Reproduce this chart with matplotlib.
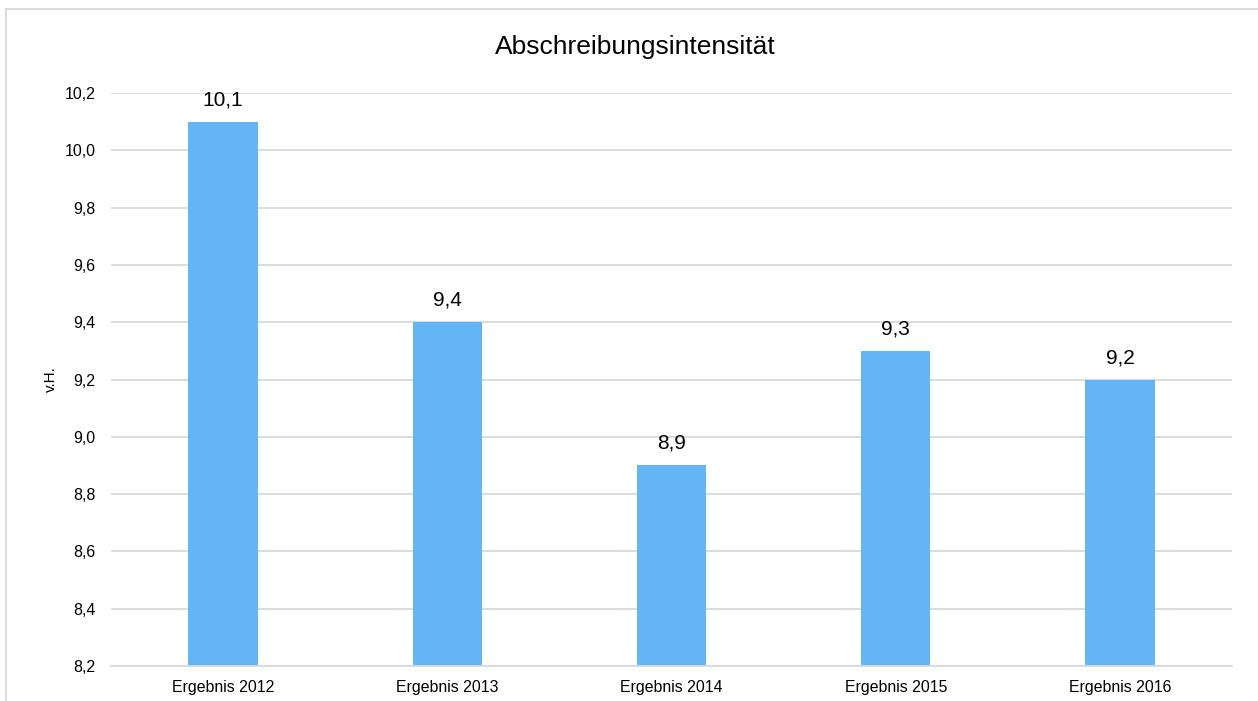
import matplotlib
matplotlib.use("Agg")
import matplotlib.pyplot as plt
from matplotlib.lines import Line2D

plt.rcParams["font.family"] = ["Liberation Sans", "DejaVu Sans"]

categories = ["Ergebnis 2012", "Ergebnis 2013", "Ergebnis 2014", "Ergebnis 2015", "Ergebnis 2016"]
values = [10.1, 9.4, 8.9, 9.3, 9.2]
yticks = [8.2, 8.4, 8.6, 8.8, 9.0, 9.2, 9.4, 9.6, 9.8, 10.0, 10.2]

W, H = 1258, 701
fig = plt.figure(figsize=(W / 100, H / 100), dpi=100)
ax = fig.add_axes([111 / W, 1 - 666 / H, (1232 - 111) / W, (666 - 93) / H])

x = range(len(categories))
bars = ax.bar(x, values, width=0.31, color="#63B5F6", zorder=2)
for b, v in zip(bars, values):
    ax.annotate(f"{v:.1f}".replace(".", ","), (b.get_x() + b.get_width() / 2, v),
                xytext=(0, 9), textcoords="offset points",
                ha="center", va="bottom", fontsize=15, color="#000000")

ax.set_xlim(-0.5, len(categories) - 0.5)
ax.set_ylim(8.2, 10.2)
ax.set_yticks(yticks)
ax.set_yticklabels([f"{t:.1f}".replace(".", ",") for t in yticks], fontsize=11.5)
ax.set_xticks(list(x))
ax.set_xticklabels(categories, fontsize=11.4)
ax.tick_params(axis="x", length=0, pad=10)
ax.tick_params(axis="y", length=0, pad=11)
ax.grid(axis="y", color="#D9D9D9", linewidth=1.3, zorder=0)
for s in ["top", "right", "left"]:
    ax.spines[s].set_visible(False)
ax.spines["bottom"].set_color("#D9D9D9")
ax.spines["bottom"].set_linewidth(1.3)
ax.set_ylabel("v.H.", fontsize=11)
ax.yaxis.set_label_coords((58 - 111) / (1232 - 111), 0.5)

fig.text(635 / W, 1 - 47 / H, "Abschreibungsintensität", ha="center", va="center", fontsize=19)

# outer chart border (partly cropped)
fig.add_artist(Line2D([6 / W, 6 / W], [0, 1 - 9 / H], color="#D9D9D9", linewidth=1.3,
                      transform=fig.transFigure))
fig.add_artist(Line2D([6 / W, 1], [1 - 9 / H, 1 - 9 / H], color="#D9D9D9", linewidth=1.3,
                      transform=fig.transFigure))

fig.savefig("out.png", dpi=100)
